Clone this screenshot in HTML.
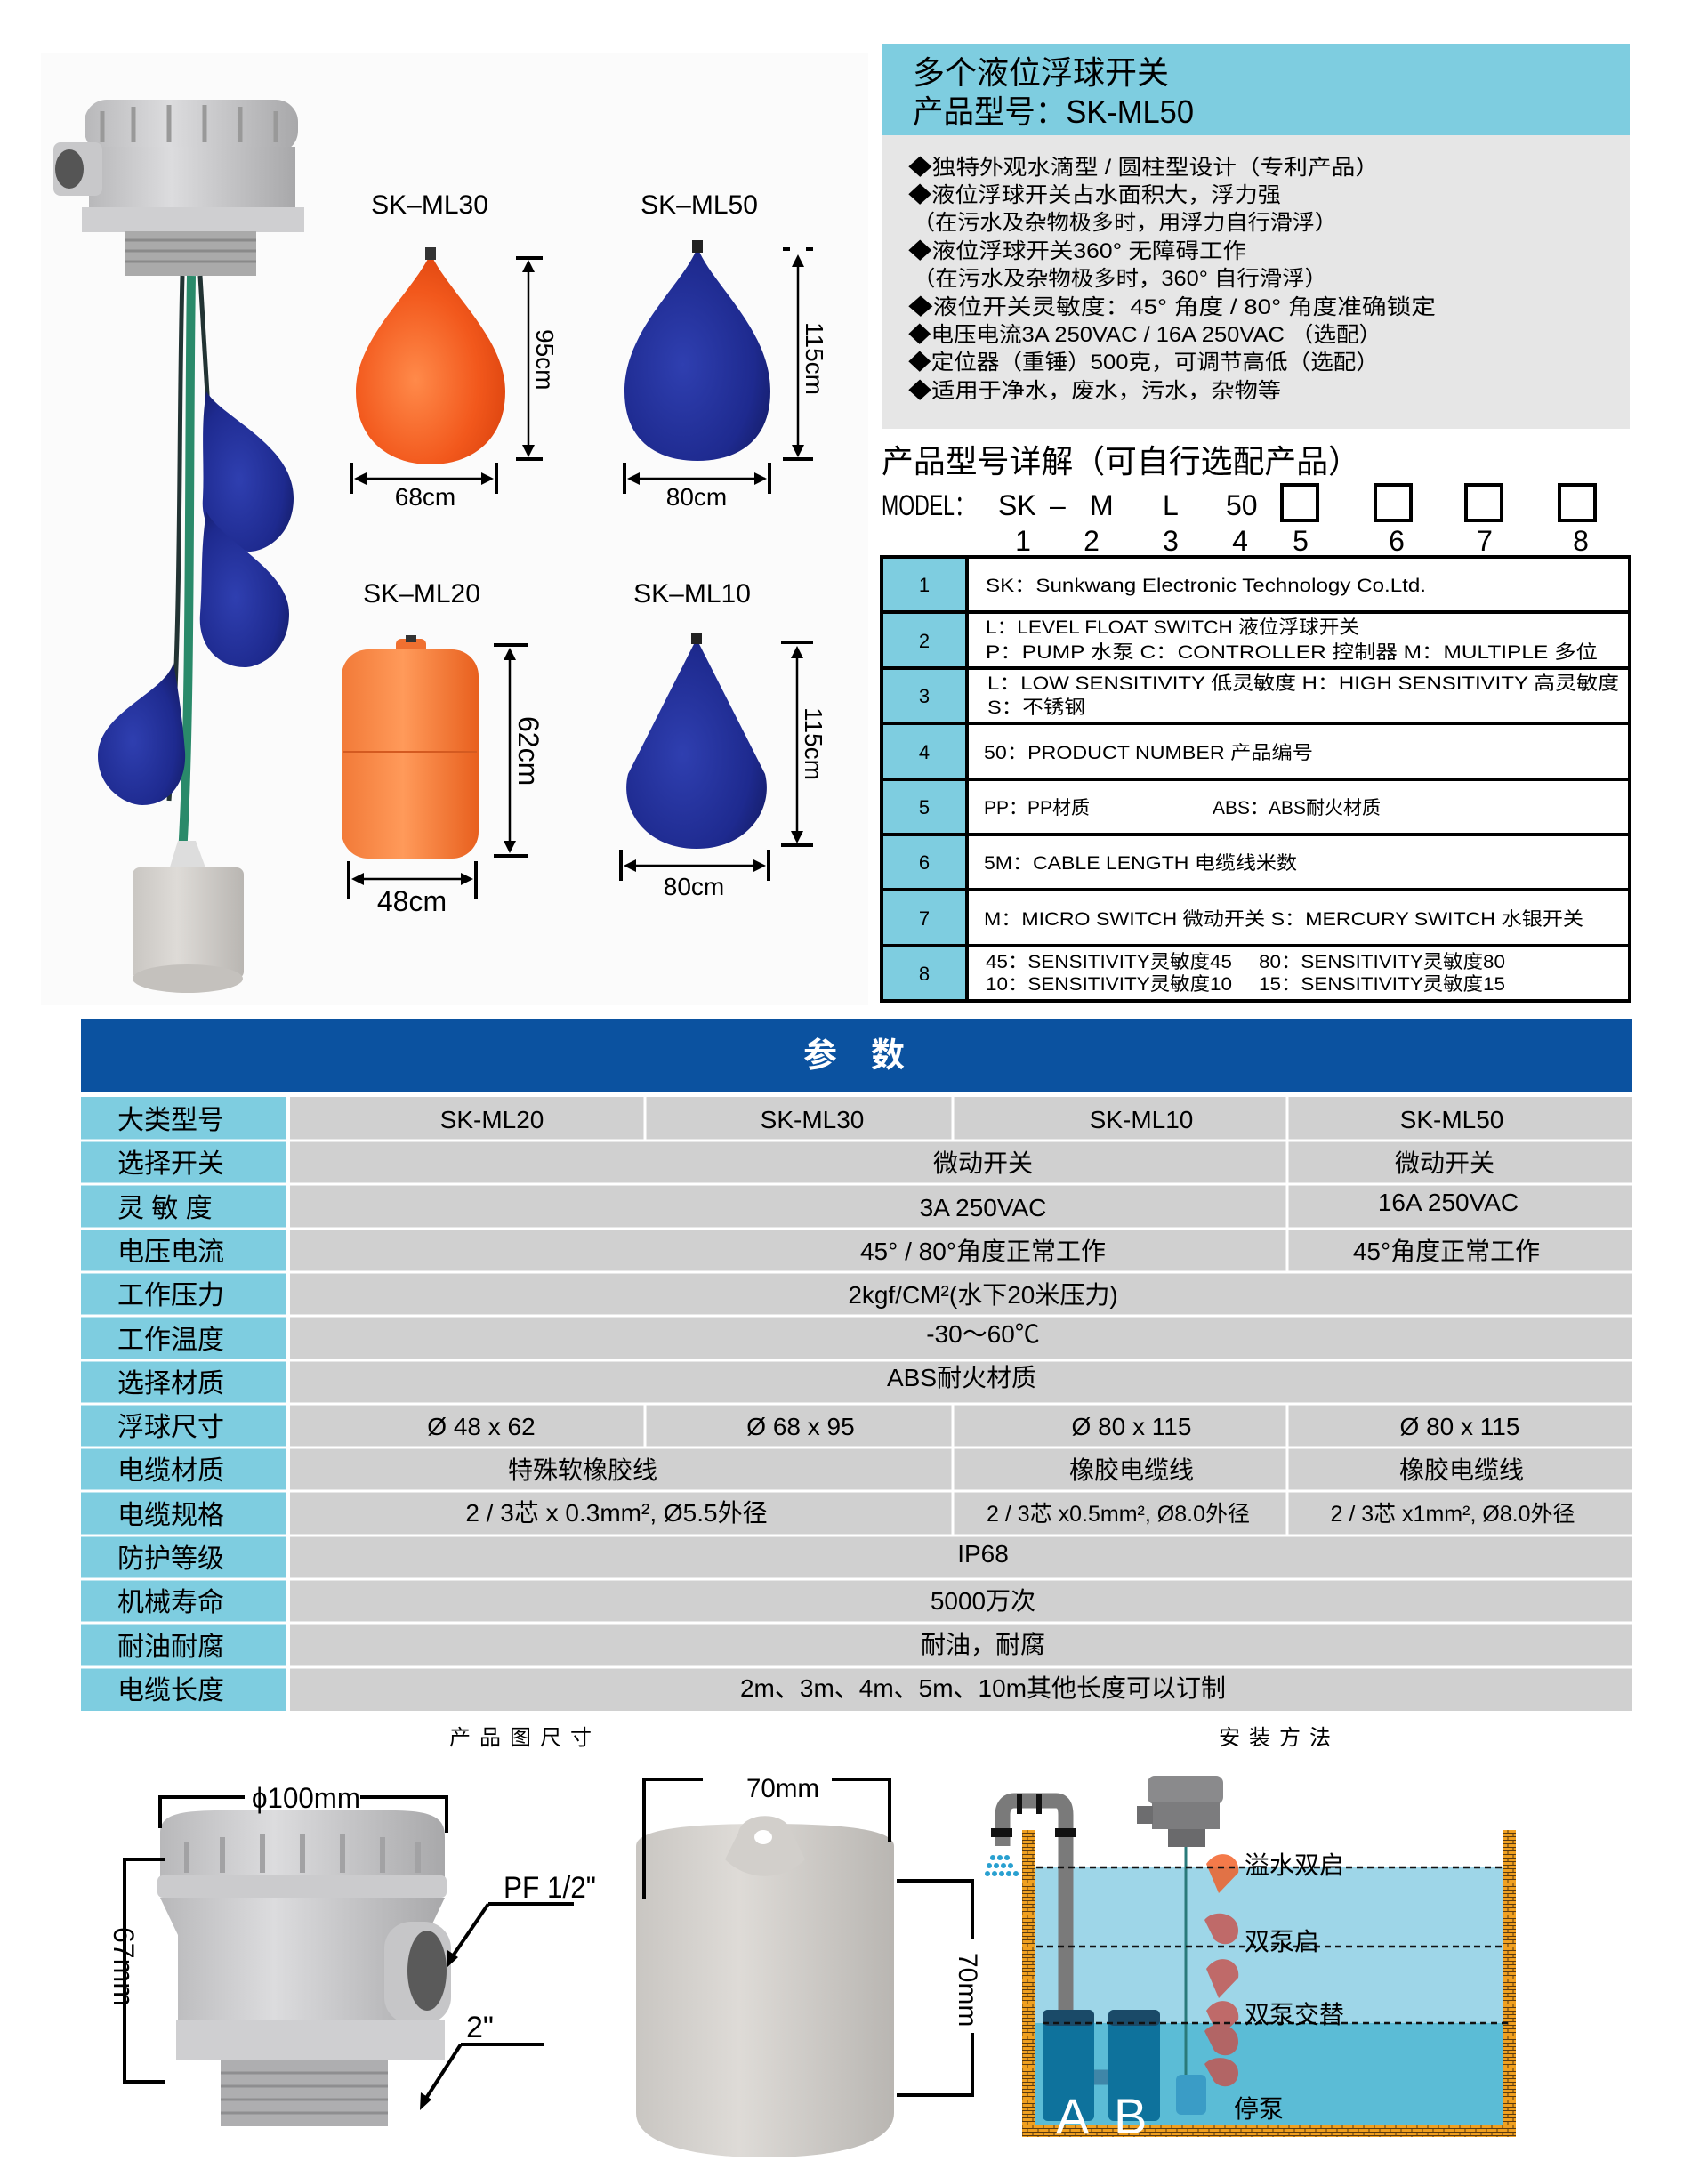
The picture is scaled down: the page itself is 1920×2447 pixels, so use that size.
<!DOCTYPE html>
<html><head><meta charset="utf-8"><style>
html,body{margin:0;padding:0;background:#fff;}
svg{display:block;}
text{font-family:"Liberation Sans","Noto Sans CJK SC",sans-serif;}
.cj{font-family:"Liberation Sans","Noto Sans CJK SC",sans-serif;}
</style></head><body>
<svg width="1920" height="2447" viewBox="0 0 1920 2447" xmlns="http://www.w3.org/2000/svg">
<defs>
<radialGradient id="og" cx="0.4" cy="0.6" r="0.7"><stop offset="0" stop-color="#ff8a4a"/><stop offset="0.6" stop-color="#f2581c"/><stop offset="1" stop-color="#d8400c"/></radialGradient>
<linearGradient id="og2" x1="0" x2="1"><stop offset="0" stop-color="#f27a38"/><stop offset="0.45" stop-color="#ff9a5a"/><stop offset="1" stop-color="#e8601e"/></linearGradient>
<radialGradient id="bg" cx="0.4" cy="0.55" r="0.7"><stop offset="0" stop-color="#2f3fb0"/><stop offset="0.7" stop-color="#1e2a8f"/><stop offset="1" stop-color="#141c66"/></radialGradient>
<linearGradient id="gr" x1="0" x2="1"><stop offset="0" stop-color="#b8b8ba"/><stop offset="0.4" stop-color="#dcdcde"/><stop offset="1" stop-color="#a8a8aa"/></linearGradient>
<linearGradient id="wt" x1="0" x2="1"><stop offset="0" stop-color="#c9c6c2"/><stop offset="0.4" stop-color="#dedbd7"/><stop offset="1" stop-color="#b9b6b2"/></linearGradient>
<pattern id="brick" width="12" height="8" patternUnits="userSpaceOnUse"><rect width="12" height="8" fill="#f0a020"/><path d="M0 .5H12M0 4.5H12M3 0V4M9 4V8" stroke="#5a3a10" stroke-width="1"/></pattern>
</defs>

<rect x="46" y="60" width="930" height="1070" fill="#fbfbfb"/>

<g>
<rect x="95" y="112" width="240" height="60" rx="25" fill="url(#gr)"/>
<g stroke="#999" stroke-width="5"><line x1="115" y1="125" x2="115" y2="160"/><line x1="150" y1="120" x2="150" y2="160"/><line x1="190" y1="118" x2="190" y2="160"/><line x1="230" y1="118" x2="230" y2="160"/><line x1="270" y1="120" x2="270" y2="160"/><line x1="310" y1="125" x2="310" y2="160"/></g>
<rect x="100" y="165" width="232" height="70" fill="url(#gr)"/>
<rect x="60" y="160" width="55" height="60" rx="8" fill="#c8c8ca"/>
<ellipse cx="78" cy="190" rx="16" ry="22" fill="#555"/>
<rect x="92" y="233" width="250" height="28" fill="#cfcfd1"/>
<rect x="140" y="260" width="148" height="50" fill="#aaa"/>
<g stroke="#8a8a8a" stroke-width="3"><line x1="140" y1="270" x2="288" y2="270"/><line x1="140" y1="282" x2="288" y2="282"/><line x1="140" y1="294" x2="288" y2="294"/></g>
</g>
<path d="M215 310 C212 500 215 800 205 960" stroke="#2a8a6a" stroke-width="10" fill="none"/>
<path d="M205 310 C200 500 205 700 190 900" stroke="#233" stroke-width="5" fill="none"/>
<path d="M225 310 C230 400 235 480 240 560" stroke="#233" stroke-width="5" fill="none"/>
<path d="M232 440 C250 470 330 500 330 560 C330 600 300 620 280 620 C250 620 225 595 228 560 C230 520 225 480 232 440Z" fill="url(#bg)"/>
<path d="M232 575 C250 610 325 640 325 690 C325 730 295 750 275 750 C245 750 222 725 225 690 C228 650 225 620 232 575Z" fill="url(#bg)"/>
<path d="M195 745 C185 780 110 800 110 850 C110 885 140 905 160 905 C190 905 210 880 208 845 C205 805 200 775 195 745Z" fill="url(#bg)"/>
<path d="M200 945 L220 945 L232 978 L190 978Z" fill="#ddd"/>
<rect x="149" y="975" width="125" height="125" rx="8" fill="url(#wt)"/>
<ellipse cx="211" cy="1100" rx="62" ry="16" fill="#c4c1bd"/>

<text x="483" y="240" font-size="30" text-anchor="middle">SK–ML30</text>
<path d="M484 285 C505 330 568 380 568 440 C568 495 530 522 484 522 C438 522 400 495 400 440 C400 380 463 330 484 285Z" fill="url(#og)"/>
<rect x="478" y="278" width="12" height="14" fill="#333"/>
<g stroke="#000" stroke-width="4"><line x1="580" y1="290" x2="610" y2="290"/><line x1="580" y1="516" x2="610" y2="516"/><line x1="395" y1="520" x2="395" y2="555"/><line x1="558" y1="520" x2="558" y2="555"/></g>
<g stroke="#000" stroke-width="2.5"><line x1="594" y1="296" x2="594" y2="510"/><line x1="401" y1="538" x2="552" y2="538"/></g>
<path d="M594 292 l-7 14 h14z M594 514 l-7 -14 h14z M398 538 l14 -7 v14z M555 538 l-14 -7 v14z" fill="#000"/>
<text x="0" y="0" font-size="28" transform="translate(603 370) rotate(90)">95cm</text>
<text x="478" y="568" font-size="28" text-anchor="middle">68cm</text>

<text x="786" y="240" font-size="30" text-anchor="middle">SK–ML50</text>
<path d="M784 278 C800 320 866 370 866 440 C866 495 830 518 784 518 C738 518 702 495 702 440 C702 370 768 320 784 278Z" fill="url(#bg)"/>
<rect x="778" y="270" width="12" height="14" fill="#222"/>
<g stroke="#000" stroke-width="4"><line x1="880" y1="516" x2="914" y2="516"/><line x1="880" y1="280" x2="888" y2="280"/><line x1="906" y1="280" x2="914" y2="280"/><line x1="702" y1="520" x2="702" y2="555"/><line x1="865" y1="520" x2="865" y2="555"/></g>
<g stroke="#000" stroke-width="2.5"><line x1="897" y1="290" x2="897" y2="510"/><line x1="708" y1="538" x2="860" y2="538"/></g>
<path d="M897 286 l-7 14 h14z M897 514 l-7 -14 h14z M705 538 l14 -7 v14z M862 538 l-14 -7 v14z" fill="#000"/>
<text x="0" y="0" font-size="28" transform="translate(906 362) rotate(90)">115cm</text>
<text x="783" y="568" font-size="28" text-anchor="middle">80cm</text>

<text x="474" y="677" font-size="30" text-anchor="middle">SK–ML20</text>
<rect x="445" y="718" width="34" height="22" rx="6" fill="#f07030"/>
<rect x="456" y="714" width="12" height="8" fill="#333"/>
<rect x="384" y="730" width="154" height="235" rx="30" fill="url(#og2)"/>
<line x1="386" y1="845" x2="536" y2="845" stroke="#d45a20" stroke-width="2"/>
<g stroke="#000" stroke-width="4"><line x1="555" y1="725" x2="593" y2="725"/><line x1="555" y1="962" x2="593" y2="962"/><line x1="392" y1="968" x2="392" y2="1010"/><line x1="535" y1="968" x2="535" y2="1010"/></g>
<g stroke="#000" stroke-width="2.5"><line x1="573" y1="732" x2="573" y2="955"/><line x1="398" y1="988" x2="530" y2="988"/></g>
<path d="M573 728 l-7 14 h14z M573 959 l-7 -14 h14z M395 988 l14 -7 v14z M532 988 l-14 -7 v14z" fill="#000"/>
<text x="0" y="0" font-size="32" transform="translate(583 805) rotate(90)">62cm</text>
<text x="463" y="1024" font-size="32" text-anchor="middle">48cm</text>

<text x="778" y="677" font-size="30" text-anchor="middle">SK–ML10</text>
<path d="M783 718 L860 870 C870 910 840 954 783 954 C726 954 696 910 706 870Z" fill="url(#bg)"/>
<rect x="777" y="712" width="12" height="12" fill="#222"/>
<g stroke="#000" stroke-width="4"><line x1="878" y1="722" x2="914" y2="722"/><line x1="878" y1="950" x2="914" y2="950"/><line x1="698" y1="955" x2="698" y2="990"/><line x1="864" y1="955" x2="864" y2="990"/></g>
<g stroke="#000" stroke-width="2.5"><line x1="896" y1="730" x2="896" y2="944"/><line x1="704" y1="973" x2="858" y2="973"/></g>
<path d="M896 726 l-7 14 h14z M896 948 l-7 -14 h14z M701 973 l14 -7 v14z M861 973 l-14 -7 v14z" fill="#000"/>
<text x="0" y="0" font-size="28" transform="translate(905 795) rotate(90)">115cm</text>
<text x="780" y="1006" font-size="28" text-anchor="middle">80cm</text>

<rect x="991" y="49" width="841" height="103" fill="#7ecde0"/>
<rect x="991" y="152" width="841" height="330" fill="#e6e6e6"/>
<text x="1026" y="94" font-size="36" class="cj">多个液位浮球开关</text>
<text x="1026" y="138" font-size="36" class="cj" textLength="316" lengthAdjust="spacingAndGlyphs">产品型号：SK-ML50</text>
<g font-size="24" class="cj">
<text x="1021" y="196" textLength="529" lengthAdjust="spacingAndGlyphs">◆独特外观水滴型 / 圆柱型设计（专利产品）</text>
<text x="1021" y="227" textLength="419" lengthAdjust="spacingAndGlyphs">◆液位浮球开关占水面积大，浮力强</text>
<text x="1026" y="258" textLength="477" lengthAdjust="spacingAndGlyphs">（在污水及杂物极多时，用浮力自行滑浮）</text>
<text x="1021" y="290" textLength="380" lengthAdjust="spacingAndGlyphs">◆液位浮球开关360° 无障碍工作</text>
<text x="1026" y="321" textLength="466" lengthAdjust="spacingAndGlyphs">（在污水及杂物极多时，360° 自行滑浮）</text>
<text x="1021" y="353" textLength="593" lengthAdjust="spacingAndGlyphs">◆液位开关灵敏度：45° 角度 / 80° 角度准确锁定</text>
<text x="1021" y="384" textLength="532" lengthAdjust="spacingAndGlyphs">◆电压电流3A 250VAC / 16A 250VAC （选配）</text>
<text x="1021" y="415" textLength="529" lengthAdjust="spacingAndGlyphs">◆定位器（重锤）500克，可调节高低（选配）</text>
<text x="1021" y="447" textLength="419" lengthAdjust="spacingAndGlyphs">◆适用于净水，废水，污水，杂物等</text>
</g>
<text x="991" y="531" font-size="36" class="cj" textLength="538" lengthAdjust="spacingAndGlyphs">产品型号详解（可自行选配产品）</text>
<g font-size="32">
<text x="991" y="579" textLength="105" lengthAdjust="spacingAndGlyphs">MODEL：</text>
<text x="1122" y="579">SK</text><text x="1180" y="579">–</text><text x="1225" y="579">M</text><text x="1307" y="579">L</text><text x="1378" y="579">50</text>
</g>
<g fill="none" stroke="#000" stroke-width="4"><rect x="1441" y="545" width="40" height="40"/><rect x="1546" y="545" width="40" height="40"/><rect x="1648" y="545" width="40" height="40"/><rect x="1753" y="545" width="40" height="40"/></g>
<g font-size="32" text-anchor="middle"><text x="1150" y="619">1</text><text x="1227" y="619">2</text><text x="1316" y="619">3</text><text x="1394" y="619">4</text><text x="1462" y="619">5</text><text x="1570" y="619">6</text><text x="1669" y="619">7</text><text x="1777" y="619">8</text></g>

<rect x="991" y="626" width="96" height="499" fill="#7ecde0"/>
<g stroke="#000" stroke-width="4" fill="none">
<rect x="991" y="626" width="841" height="499"/>
<line x1="1087" y1="626" x2="1087" y2="1125"/>
<line x1="991" y1="688" x2="1832" y2="688"/><line x1="991" y1="751" x2="1832" y2="751"/><line x1="991" y1="813" x2="1832" y2="813"/><line x1="991" y1="876" x2="1832" y2="876"/><line x1="991" y1="938" x2="1832" y2="938"/><line x1="991" y1="1000" x2="1832" y2="1000"/><line x1="991" y1="1063" x2="1832" y2="1063"/>
</g>
<g font-size="22" text-anchor="middle"><text x="1039" y="665">1</text><text x="1039" y="728">2</text><text x="1039" y="790">3</text><text x="1039" y="853">4</text><text x="1039" y="915">5</text><text x="1039" y="977">6</text><text x="1039" y="1040">7</text><text x="1039" y="1102">8</text></g>
<g font-size="21" class="cj">
<text x="1108" y="665" textLength="495" lengthAdjust="spacingAndGlyphs">SK：Sunkwang Electronic Technology Co.Ltd.</text>
<text x="1108" y="712" textLength="420" lengthAdjust="spacingAndGlyphs">L：LEVEL FLOAT SWITCH  液位浮球开关</text>
<text x="1108" y="740" textLength="688" lengthAdjust="spacingAndGlyphs">P：PUMP  水泵     C：CONTROLLER 控制器     M：MULTIPLE 多位</text>
<text x="1110" y="775" textLength="710" lengthAdjust="spacingAndGlyphs">L：LOW SENSITIVITY   低灵敏度     H：HIGH SENSITIVITY 高灵敏度</text>
<text x="1110" y="802" textLength="110" lengthAdjust="spacingAndGlyphs">S：不锈钢</text>
<text x="1106" y="853" textLength="370" lengthAdjust="spacingAndGlyphs">50：PRODUCT NUMBER  产品编号</text>
<text x="1106" y="915">PP：PP材质</text>
<text x="1363" y="915">ABS：ABS耐火材质</text>
<text x="1106" y="977" textLength="352" lengthAdjust="spacingAndGlyphs">5M：CABLE LENGTH  电缆线米数</text>
<text x="1106" y="1040" textLength="674" lengthAdjust="spacingAndGlyphs">M：MICRO SWITCH 微动开关    S：MERCURY SWITCH 水银开关</text>
<text x="1108" y="1088" textLength="277" lengthAdjust="spacingAndGlyphs">45：SENSITIVITY灵敏度45</text>
<text x="1415" y="1088" textLength="277" lengthAdjust="spacingAndGlyphs">80：SENSITIVITY灵敏度80</text>
<text x="1108" y="1113" textLength="277" lengthAdjust="spacingAndGlyphs">10：SENSITIVITY灵敏度10</text>
<text x="1415" y="1113" textLength="277" lengthAdjust="spacingAndGlyphs">15：SENSITIVITY灵敏度15</text>
</g>

<rect x="91" y="1145" width="1744" height="82" fill="#0b52a0"/>
<text x="960" y="1199" font-size="38" fill="#fff" font-weight="bold" text-anchor="middle" class="cj">参　数</text>

<g id="pt">
<rect x="91" y="1233" width="231" height="690" fill="#7ecde0"/>
<rect x="326" y="1233" width="1509" height="690" fill="#d0d0d0"/>
<g stroke="#fff" stroke-width="3">
<line x1="91" y1="1282" x2="1835" y2="1282"/><line x1="91" y1="1331" x2="1835" y2="1331"/><line x1="91" y1="1381" x2="1835" y2="1381"/><line x1="91" y1="1430" x2="1835" y2="1430"/><line x1="91" y1="1479" x2="1835" y2="1479"/><line x1="91" y1="1529" x2="1835" y2="1529"/><line x1="91" y1="1578" x2="1835" y2="1578"/><line x1="91" y1="1627" x2="1835" y2="1627"/><line x1="91" y1="1676" x2="1835" y2="1676"/><line x1="91" y1="1726" x2="1835" y2="1726"/><line x1="91" y1="1775" x2="1835" y2="1775"/><line x1="91" y1="1824" x2="1835" y2="1824"/><line x1="91" y1="1874" x2="1835" y2="1874"/>
<line x1="324" y1="1233" x2="324" y2="1923" stroke-width="4"/>
<line x1="725" y1="1233" x2="725" y2="1282"/><line x1="1071" y1="1233" x2="1071" y2="1282"/><line x1="1447" y1="1233" x2="1447" y2="1430"/>
<line x1="725" y1="1578" x2="725" y2="1627"/><line x1="1071" y1="1578" x2="1071" y2="1726"/><line x1="1447" y1="1578" x2="1447" y2="1726"/>
</g>
<g font-size="30" class="cj">
<text x="132" y="1269">大类型号</text><text x="132" y="1318">选择开关</text><text x="132" y="1368">灵 敏 度</text><text x="132" y="1417">电压电流</text><text x="132" y="1466">工作压力</text><text x="132" y="1516">工作温度</text><text x="132" y="1565">选择材质</text><text x="132" y="1614">浮球尺寸</text><text x="132" y="1663">电缆材质</text><text x="132" y="1713">电缆规格</text><text x="132" y="1762">防护等级</text><text x="132" y="1811">机械寿命</text><text x="132" y="1861">耐油耐腐</text><text x="132" y="1910">电缆长度</text>
</g>
<g font-size="28" class="cj" text-anchor="middle">
<text x="553" y="1268">SK-ML20</text><text x="913" y="1268">SK-ML30</text><text x="1283" y="1268">SK-ML10</text><text x="1632" y="1268">SK-ML50</text>
<text x="1105" y="1317">微动开关</text><text x="1624" y="1317">微动开关</text>
<text x="1105" y="1367">3A 250VAC</text><text x="1628" y="1361">16A 250VAC</text>
<text x="1105" y="1416">45° / 80°角度正常工作</text><text x="1626" y="1416">45°角度正常工作</text>
<text x="1105" y="1465">2kgf/CM²(水下20米压力)</text>
<text x="1105" y="1509">-30～60℃</text>
<text x="1081" y="1558">ABS耐火材质</text>
<text x="541" y="1613">Ø 48 x 62</text><text x="900" y="1613">Ø 68 x 95</text><text x="1272" y="1613">Ø 80 x 115</text><text x="1641" y="1613">Ø 80 x 115</text>
<text x="655" y="1662">特殊软橡胶线</text><text x="1272" y="1662">橡胶电缆线</text><text x="1643" y="1662">橡胶电缆线</text>
<text x="693" y="1710">2 / 3芯 x 0.3mm², Ø5.5外径</text>
<text x="1257" y="1710" font-size="25">2 / 3芯 x0.5mm², Ø8.0外径</text>
<text x="1633" y="1710" font-size="25">2 / 3芯 x1mm², Ø8.0外径</text>
<text x="1105" y="1756">IP68</text>
<text x="1105" y="1809">5000万次</text>
<text x="1105" y="1858">耐油，耐腐</text>
<text x="1105" y="1907">2m、3m、4m、5m、10m其他长度可以订制</text>
</g>
</g>

<text x="590" y="1961" font-size="24" text-anchor="middle" class="cj" letter-spacing="10">产品图尺寸</text>
<text x="1438" y="1961" font-size="24" text-anchor="middle" class="cj" letter-spacing="10">安装方法</text>

<g>
<path d="M180 2060 C180 2040 200 2035 250 2035 L440 2035 C490 2035 500 2045 500 2065 L500 2110 L180 2110Z" fill="url(#gr)"/>
<g stroke="#a2a2a4" stroke-width="6"><line x1="210" y1="2070" x2="210" y2="2105"/><line x1="250" y1="2065" x2="250" y2="2105"/><line x1="295" y1="2062" x2="295" y2="2105"/><line x1="340" y1="2062" x2="340" y2="2105"/><line x1="385" y1="2062" x2="385" y2="2105"/><line x1="430" y1="2065" x2="430" y2="2105"/><line x1="470" y1="2070" x2="470" y2="2105"/></g>
<rect x="177" y="2108" width="325" height="25" rx="6" fill="#cbcbcd"/>
<path d="M180 2133 L500 2133 L480 2175 L480 2270 L200 2270 L200 2175Z" fill="url(#gr)"/>
<rect x="432" y="2160" width="75" height="115" rx="30" fill="#c6c6c8"/>
<ellipse cx="480" cy="2215" rx="22" ry="45" fill="#5a5a5a"/>
<rect x="198" y="2270" width="302" height="45" fill="#cfcfd1"/>
<rect x="248" y="2315" width="188" height="75" fill="#aeaeb0"/>
<g stroke="#8e8e90" stroke-width="3"><line x1="248" y1="2330" x2="436" y2="2330"/><line x1="248" y1="2345" x2="436" y2="2345"/><line x1="248" y1="2360" x2="436" y2="2360"/><line x1="248" y1="2375" x2="436" y2="2375"/></g>
</g>
<g stroke="#000" stroke-width="4" fill="none">
<polyline points="180,2055 180,2020 275,2020"/><polyline points="405,2020 502,2020 502,2060"/>
<polyline points="185,2090 140,2090 140,2340 185,2340"/>
<line x1="549" y1="2140" x2="645" y2="2140"/><line x1="549" y1="2140" x2="508" y2="2200"/>
<line x1="518" y1="2298" x2="612" y2="2298"/><line x1="518" y1="2298" x2="478" y2="2360"/>
</g>
<path d="M502 2212 l1 -20 l12 8z M472 2372 l1 -20 l12 8z" fill="#000"/>
<text x="283" y="2032" font-size="32" textLength="122" lengthAdjust="spacingAndGlyphs">ϕ100mm</text>
<text x="566" y="2133" font-size="34" textLength="104" lengthAdjust="spacingAndGlyphs">PF 1/2"</text>
<text x="524" y="2290" font-size="34">2"</text>
<text x="0" y="0" font-size="32" transform="translate(128 2166) rotate(90)">67mm</text>

<path d="M715 2075 C715 2055 780 2050 860 2050 C940 2050 1005 2055 1005 2075 L1005 2375 C1005 2410 940 2425 860 2425 C780 2425 715 2410 715 2375Z" fill="url(#wt)"/>
<path d="M815 2090 L830 2060 C835 2035 885 2035 890 2060 L905 2090 C880 2115 840 2115 815 2090Z" fill="#d2cfcb"/>
<ellipse cx="858" cy="2065" rx="10" ry="8" fill="#fff"/>
<g stroke="#000" stroke-width="4" fill="none"><polyline points="724,2135 724,2000 790,2000"/><polyline points="935,2000 1000,2000 1000,2070"/><line x1="1008" y1="2114" x2="1095" y2="2114"/><line x1="1008" y1="2355" x2="1095" y2="2355"/><line x1="1093" y1="2114" x2="1093" y2="2180"/><line x1="1093" y1="2285" x2="1093" y2="2355"/></g>
<text x="839" y="2020" font-size="30" textLength="82" lengthAdjust="spacingAndGlyphs">70mm</text>
<text x="0" y="0" font-size="30" transform="translate(1078 2195) rotate(90)">70mm</text>

<rect x="1163" y="2099" width="527" height="175" fill="#9ed6e8"/>
<rect x="1163" y="2274" width="527" height="117" fill="#5bbcd6"/>
<rect x="1149" y="2057" width="14" height="345" fill="url(#brick)"/>
<rect x="1690" y="2057" width="14" height="345" fill="url(#brick)"/>
<rect x="1149" y="2389" width="555" height="13" fill="url(#brick)"/>
<path d="M1127 2075 L1127 2040 C1127 2030 1132 2024 1140 2024 L1187 2024 C1195 2024 1198 2030 1198 2040 L1198 2380" stroke="#7a7a7a" stroke-width="17" fill="none"/>
<path d="M1198 2340 L1198 2335 L1255 2335 C1262 2335 1266 2340 1266 2350 L1266 2380" stroke="#3f86a8" stroke-width="17" fill="none"/>
<g fill="#111"><rect x="1143" y="2017" width="6" height="22"/><rect x="1165" y="2017" width="6" height="22"/><rect x="1114" y="2055" width="24" height="10"/><rect x="1186" y="2055" width="24" height="10"/></g>
<g fill="#29a0d0"><circle cx="1116" cy="2088" r="3"/><circle cx="1124" cy="2088" r="3"/><circle cx="1132" cy="2088" r="3"/><circle cx="1112" cy="2097" r="3"/><circle cx="1120" cy="2097" r="3"/><circle cx="1128" cy="2097" r="3"/><circle cx="1136" cy="2097" r="3"/><circle cx="1110" cy="2106" r="3"/><circle cx="1118" cy="2106" r="3"/><circle cx="1126" cy="2106" r="3"/><circle cx="1134" cy="2106" r="3"/><circle cx="1142" cy="2106" r="3"/></g>
<rect x="1172" y="2259" width="58" height="125" rx="6" fill="#0e729c"/>
<rect x="1246" y="2259" width="58" height="125" rx="6" fill="#0e729c"/>
<rect x="1172" y="2259" width="58" height="18" rx="6" fill="#1a4a68"/>
<rect x="1246" y="2259" width="58" height="18" rx="6" fill="#1a4a68"/>
<text x="1187" y="2398" font-size="56" fill="#fff">A</text>
<text x="1252" y="2398" font-size="56" fill="#fff">B</text>
<rect x="1290" y="1996" width="85" height="32" rx="8" fill="#8a8a8c"/>
<rect x="1295" y="2026" width="76" height="30" fill="#7c7c7e"/>
<rect x="1278" y="2030" width="18" height="20" fill="#6d6d6f"/>
<rect x="1313" y="2056" width="42" height="20" fill="#6a6a6c"/>
<line x1="1333" y1="2076" x2="1333" y2="2335" stroke="#2a7a7a" stroke-width="3"/>
<rect x="1322" y="2332" width="34" height="45" rx="6" fill="#3a9cc6"/>
<g fill="#c8504a" opacity=".8">
<path d="M1356 2095 C1370 2075 1395 2085 1392 2105 L1370 2128Z" fill="#f25a1e" opacity="1"/>
<path d="M1354 2158 C1365 2145 1392 2150 1392 2170 C1392 2185 1375 2190 1365 2180Z"/>
<path d="M1356 2213 C1370 2193 1395 2203 1392 2223 L1370 2246Z"/>
<path d="M1354 2283 C1365 2270 1392 2275 1392 2295 C1392 2310 1375 2315 1365 2305Z"/>
<path d="M1356 2260 C1370 2240 1395 2250 1392 2270 L1370 2290Z"/>
<path d="M1354 2320 C1365 2308 1392 2312 1392 2330 C1392 2345 1375 2350 1365 2340Z"/>
</g>
<g stroke="#111" stroke-width="2.5" stroke-dasharray="7 5">
<line x1="1165" y1="2099" x2="1690" y2="2099"/><line x1="1165" y1="2188" x2="1690" y2="2188"/><line x1="1172" y1="2274" x2="1695" y2="2274"/>
</g>
<g font-size="28" class="cj">
<text x="1399" y="2106">溢水双启</text><text x="1399" y="2192">双泵启</text><text x="1399" y="2274">双泵交替</text><text x="1387" y="2380">停泵</text>
</g>
</svg>
</body></html>
